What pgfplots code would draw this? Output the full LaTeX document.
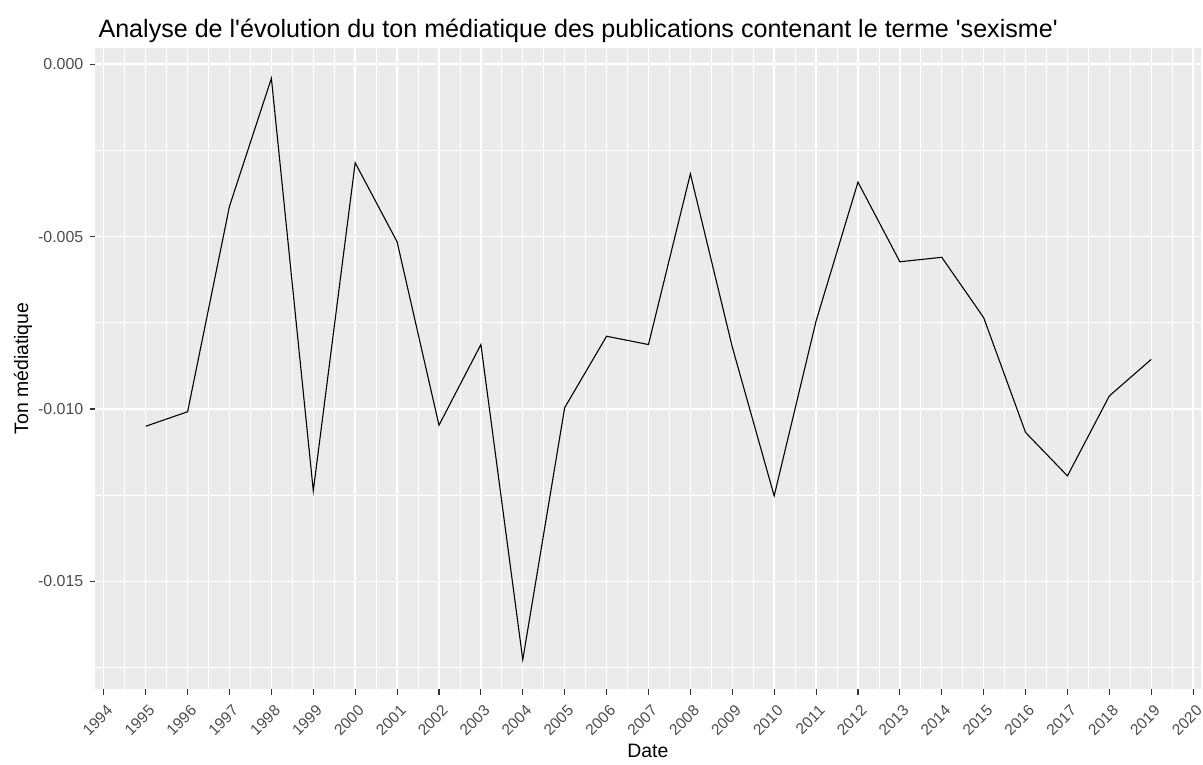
\documentclass[border=0pt]{standalone}
\usepackage{pgfplots}
\pgfplotsset{compat=1.18}
\usepackage{fontspec}
\setmainfont{Liberation Sans}[Ligatures=TeXOff]
\definecolor{panel}{RGB}{235,235,235}
\definecolor{ticklab}{RGB}{77,77,77}
\definecolor{tickcol}{RGB}{51,51,51}
\pgfplotstableread{
year val
1995 -0.01050
1996 -0.01008
1997 -0.00412
1998 -0.00041
1999 -0.01237
2000 -0.00286
2001 -0.00515
2002 -0.01047
2003 -0.00813
2004 -0.01727
2005 -0.00996
2006 -0.00789
2007 -0.00813
2008 -0.00318
2009 -0.00820
2010 -0.01252
2011 -0.00745
2012 -0.00342
2013 -0.00573
2014 -0.00560
2015 -0.00735
2016 -0.01068
2017 -0.01194
2018 -0.00962
2019 -0.00856
}\datatable
\begin{document}
\begin{tikzpicture}
\path[use as bounding box] (0,0) rectangle (1203bp,765bp);
\begin{axis}[
  at={(95bp,76bp)}, anchor=south west,
  scale only axis, width=1105.7bp, height=641bp,
  xmin=1993.79, xmax=2020.18, ymin=-0.01812, ymax=0.00047,
  axis background/.style={fill=panel},
  axis line style={draw=none},
  xtick={1994,1995,...,2020},
  minor xtick={1994.5,1995.5,...,2019.5},
  ytick={-0.015,-0.010,-0.005,0},
  yticklabels={-0.015,-0.010,-0.005,0.000},
  minor ytick={-0.0175,-0.0125,-0.0075,-0.0025},
  scaled y ticks=false,
  /pgf/number format/1000 sep={},
  /pgf/number format/assume math mode=true,
  grid=both,
  major grid style={white, line width=1.4bp},
  minor grid style={white, line width=0.7bp},
  tick style={tickcol, line width=1.1bp},
  major tick length=5.5bp, minor tick length=0pt,
  tick align=outside, xtick pos=bottom, ytick pos=left,
  tick label style={font=\fontsize{16}{16}\selectfont, text=ticklab},
  xticklabel style={rotate=45, anchor=north east, inner sep=1.5bp, xshift=-3.6bp, yshift=-6.6bp, font=\fontsize{15.6}{15.6}\selectfont},
  yticklabel style={inner sep=2bp, xshift=-4bp},
  xlabel={Date},
  ylabel={Ton médiatique},
  label style={font=\fontsize{19.5}{19.5}\selectfont},
  xlabel style={at={(axis description cs:0.5,0)}, anchor=base, yshift=-68bp},
  ylabel style={at={(axis description cs:0,0.5)}, anchor=base, yshift=67bp},
  title={Analyse de l'évolution du ton médiatique des publications contenant le terme 'sexisme'},
  title style={at={(axis description cs:0,1)}, anchor=base west, yshift=5bp, font=\fontsize{25.2}{25.2}\selectfont},
]
\addplot[black, line width=1.1bp, mark=none] table[x=year, y=val] {\datatable};
\end{axis}
\end{tikzpicture}
\end{document}
